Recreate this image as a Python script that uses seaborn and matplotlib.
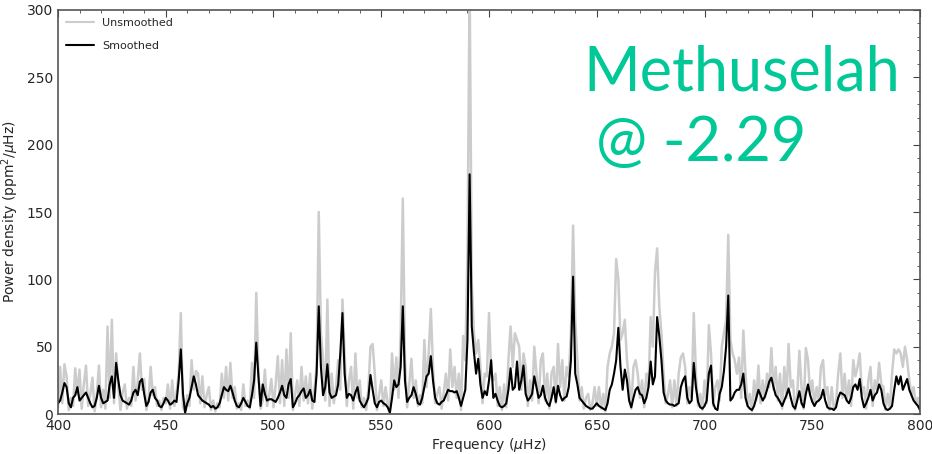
import numpy as np
import pandas as pd
import matplotlib
matplotlib.use("Agg")
import matplotlib.pyplot as plt
import seaborn as sns
from matplotlib.ticker import MultipleLocator

# frequency grid, 1 uHz steps from 400 to 800
freq = np.arange(400, 801, 1)

# raw power spectrum (ppm^2/uHz)
unsmoothed = [
    5, 35, 8, 37, 28, 3, 12, 6, 34, 15,
    33, 4, 22, 36, 6, 15, 27, 2, 14, 36,
    5, 18, 4, 65, 12, 70, 8, 45, 20, 3,
    16, 22, 4, 12, 6, 35, 10, 24, 45, 18,
    26, 3, 10, 35, 14, 20, 6, 10, 3, 12,
    8, 22, 4, 25, 6, 16, 30, 75, 5, 2,
    14, 6, 40, 18, 32, 30, 8, 28, 5, 14,
    20, 3, 10, 2, 8, 5, 30, 12, 35, 10,
    38, 12, 20, 4, 8, 3, 22, 6, 10, 4,
    38, 12, 90, 32, 4, 10, 33, 6, 14, 26,
    5, 22, 43, 8, 40, 6, 48, 12, 60, 3,
    14, 25, 6, 35, 10, 28, 8, 30, 4, 18,
    35, 150, 60, 40, 10, 85, 6, 30, 8, 20,
    40, 18, 85, 45, 6, 25, 35, 4, 45, 12,
    25, 5, 12, 3, 18, 50, 52, 30, 3, 14,
    25, 6, 20, 8, 2, 45, 18, 42, 12, 60,
    160, 40, 5, 22, 41, 12, 25, 6, 14, 8,
    55, 20, 45, 78, 35, 8, 15, 20, 4, 16,
    30, 10, 48, 20, 35, 12, 30, 3, 58, 40,
    120, 320, 97, 60, 45, 55, 35, 8, 30, 28,
    75, 30, 25, 30, 6, 20, 3, 22, 5, 40,
    65, 35, 60, 55, 50, 18, 45, 35, 6, 25,
    10, 50, 30, 8, 40, 45, 10, 30, 4, 30,
    35, 8, 52, 20, 40, 10, 35, 28, 60, 140,
    70, 40, 10, 20, 4, 12, 15, 3, 8, 20,
    6, 20, 4, 15, 2, 35, 45, 50, 60, 115,
    100, 55, 60, 70, 40, 25, 4, 35, 40, 30,
    12, 25, 5, 30, 20, 72, 50, 105, 123, 80,
    60, 30, 8, 14, 25, 5, 25, 6, 30, 42,
    45, 35, 8, 20, 12, 75, 30, 6, 15, 3,
    25, 8, 66, 45, 6, 20, 25, 10, 50, 60,
    70, 133, 55, 45, 40, 30, 42, 12, 62, 30,
    6, 15, 2, 25, 10, 36, 8, 25, 12, 30,
    20, 49, 18, 35, 10, 30, 4, 35, 12, 52,
    20, 25, 3, 14, 47, 20, 4, 49, 40, 15,
    25, 6, 20, 10, 35, 40, 14, 20, 3, 20,
    4, 8, 30, 45, 12, 30, 10, 25, 6, 40,
    28, 35, 45, 15, 20, 4, 25, 35, 6, 25,
    18, 38, 22, 20, 3, 15, 4, 30, 48, 45,
    48, 45, 35, 50, 40, 25, 14, 20, 8, 12,
    2,
]

# smoothed spectrum
smoothed = [
    8, 10, 16, 23, 20, 8, 5, 12, 14, 20,
    10, 12, 14, 16, 12, 8, 5, 6, 12, 21,
    12, 8, 9, 10, 22, 28, 12, 38, 25, 14,
    10, 9, 8, 7, 10, 16, 18, 14, 24, 26,
    15, 6, 9, 16, 18, 12, 10, 6, 5, 8,
    12, 10, 7, 8, 10, 9, 25, 48, 15, 1,
    8, 12, 20, 28, 22, 14, 12, 10, 9, 8,
    7, 5, 6, 4, 5, 8, 14, 20, 18, 17,
    21, 16, 10, 6, 5, 8, 12, 9, 6, 5,
    14, 25, 53, 28, 6, 22, 15, 10, 11, 11,
    10, 9, 12, 16, 21, 14, 12, 22, 26, 5,
    8, 12, 14, 17, 19, 12, 14, 18, 10, 9,
    30, 80, 35, 14, 20, 37, 16, 12, 13, 14,
    22, 45, 75, 30, 12, 15, 14, 10, 16, 20,
    10, 7, 5, 8, 12, 29, 18, 8, 5, 9,
    10, 8, 7, 5, 1, 12, 25, 20, 22, 35,
    80, 25, 9, 12, 14, 20, 15, 8, 7, 12,
    20, 28, 30, 43, 25, 12, 8, 7, 9, 10,
    14, 18, 17, 17, 16, 17, 12, 6, 12, 18,
    55, 178, 65, 46, 30, 41, 22, 12, 17, 14,
    25, 40, 12, 15, 10, 6, 5, 6, 8, 18,
    34, 18, 20, 39, 18, 25, 36, 15, 10, 12,
    15, 28, 20, 12, 14, 21, 12, 8, 6, 12,
    20, 9, 21, 14, 10, 12, 13, 20, 40, 102,
    30, 22, 12, 10, 8, 6, 5, 4, 4, 6,
    8, 6, 5, 4, 3, 8, 18, 22, 30, 40,
    64, 35, 18, 33, 25, 10, 5, 12, 18, 20,
    15, 14, 8, 12, 20, 39, 22, 28, 72, 58,
    40, 16, 10, 8, 7, 7, 6, 7, 8, 20,
    25, 28, 12, 8, 10, 38, 20, 9, 5, 4,
    6, 10, 30, 36, 8, 4, 3, 15, 20, 32,
    50, 88, 10, 12, 16, 18, 18, 22, 30, 12,
    6, 4, 3, 6, 12, 18, 14, 10, 13, 18,
    24, 27, 20, 14, 12, 9, 6, 10, 14, 19,
    12, 6, 4, 10, 17, 8, 5, 15, 22, 14,
    9, 6, 9, 10, 12, 18, 10, 5, 4, 4,
    3, 5, 12, 16, 15, 14, 10, 8, 12, 20,
    22, 18, 26, 12, 5, 8, 12, 18, 10, 14,
    16, 22, 18, 8, 4, 3, 4, 6, 18, 28,
    22, 28, 18, 22, 26, 18, 14, 10, 8, 6,
    3,
]

df = pd.DataFrame({"freq": freq, "Unsmoothed": unsmoothed, "Smoothed": smoothed})

sns.set_style("white")
plt.rcParams["font.family"] = ["DejaVu Sans"]

fig = plt.figure(figsize=(9.32, 4.54), dpi=100)
ax = fig.add_axes([0.0622, 0.088, 0.925, 0.89])

sns.lineplot(data=df, x="freq", y="Unsmoothed", ax=ax, color="#cccccc", lw=1.8, label="Unsmoothed")
sns.lineplot(data=df, x="freq", y="Smoothed", ax=ax, color="black", lw=1.5, label="Smoothed")

ax.set_xlim(400, 800)
ax.set_ylim(0, 300)
ax.set_xlabel(r"Frequency ($\mu$Hz)", fontsize=10, labelpad=2)
ax.set_ylabel(r"Power density (ppm$^2$/$\mu$Hz)", fontsize=10, labelpad=4)

ax.xaxis.set_major_locator(MultipleLocator(50))
ax.xaxis.set_minor_locator(MultipleLocator(10))
ax.yaxis.set_major_locator(MultipleLocator(50))
ax.yaxis.set_minor_locator(MultipleLocator(10))
ax.tick_params(which="both", direction="in", top=True, right=True, labelsize=10, color="#444444")
ax.tick_params(which="major", length=5)
ax.tick_params(which="minor", length=2.5)
for s in ax.spines.values():
    s.set_color("#555555")
    s.set_linewidth(1.2)

leg = ax.legend(loc="upper left", frameon=False, fontsize=8, handlelength=2.5, labelspacing=1.2,
                borderaxespad=0.3)
for line in leg.get_lines():
    line.set_linewidth(1.5)

# annotation in green
fig.text(0.626, 0.80, "Methuselah", color="#00c896", fontsize=44, family="Lato")
fig.text(0.640, 0.645, "@ -2.29", color="#00c896", fontsize=44, family="Lato")

fig.savefig("out.png", dpi=100)
